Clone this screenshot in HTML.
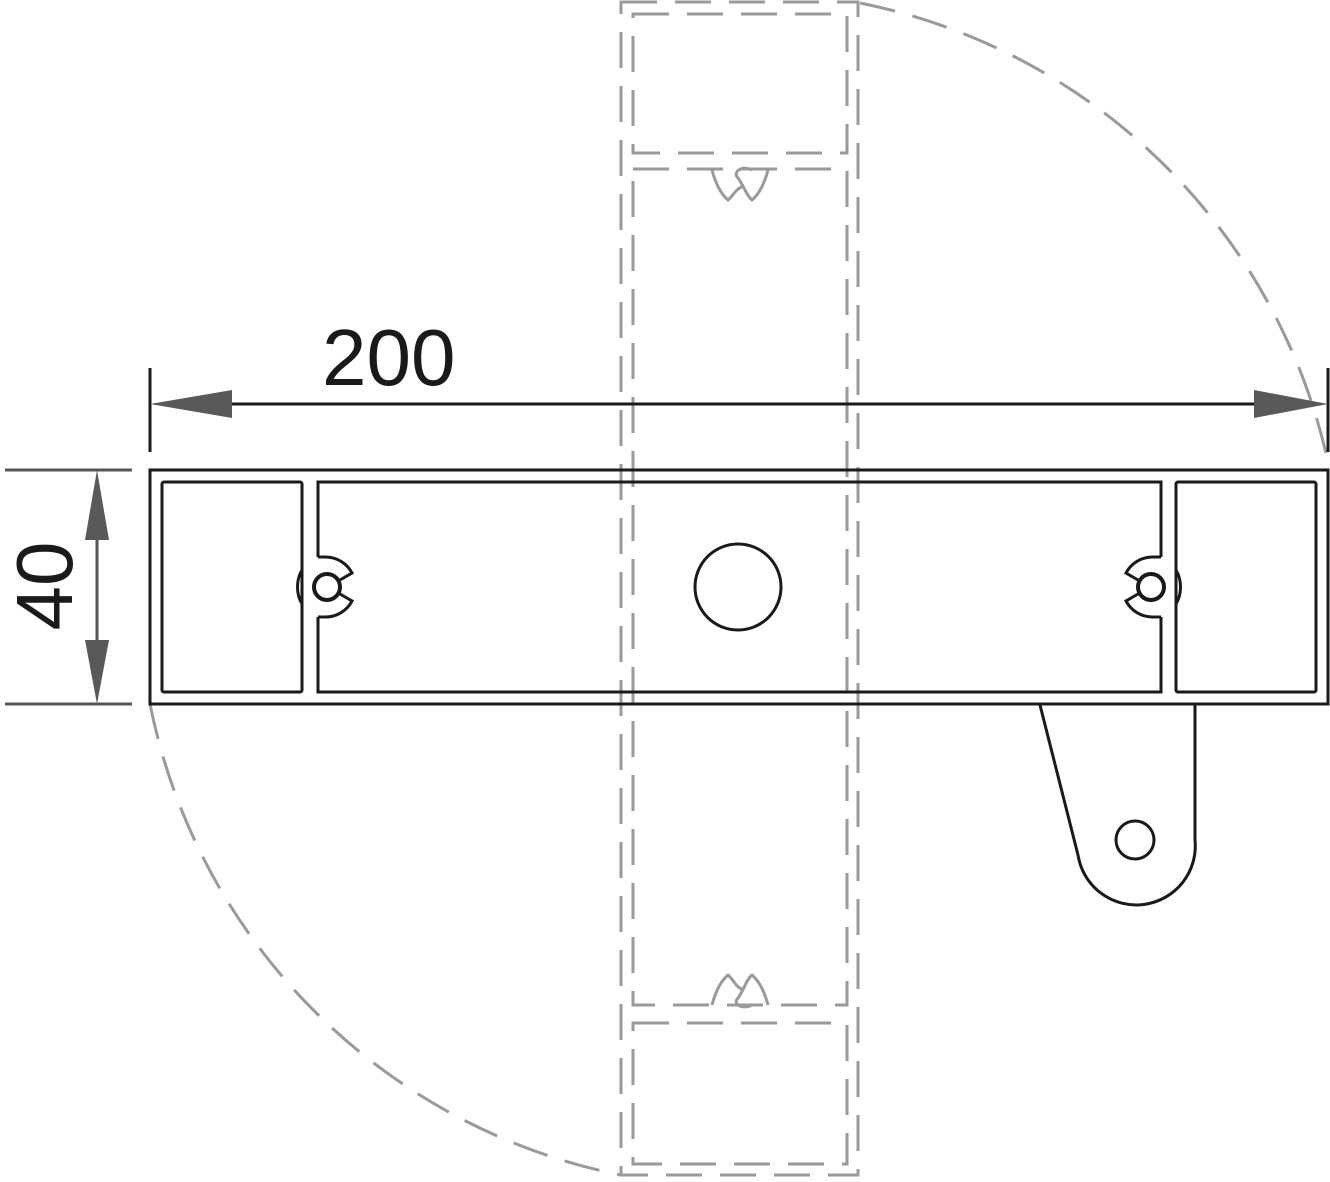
<!DOCTYPE html>
<html><head><meta charset="utf-8"><style>html,body{margin:0;padding:0;background:#fff}svg{display:block}</style></head>
<body>
<svg width="1330" height="1182" viewBox="0 0 1330 1182" xmlns="http://www.w3.org/2000/svg">
<g fill="none" stroke="#9a9a9a" stroke-width="3" stroke-dasharray="36 18">
<path d="M860 3 A600 600 0 0 1 1328 462"/>
<path d="M150 704 A600 600 0 0 0 621 1175"/>
<rect x="621" y="2" width="237" height="1173"/>
<rect x="633" y="14" width="214" height="139"/>
<rect x="633" y="169" width="214" height="836"/>
<rect x="633" y="1023" width="214" height="141"/>
</g>
<g fill="none" stroke="#9a9a9a" stroke-width="3">
<path d="M712 170 C716 185 722 195 728 200 C734 195 736 188 744 186 M768 170 C764 185 758 195 752 200 C746 195 744 186 738 178 C732 172 742 165 752 170"/>
<path d="M712 1005 C716 990 722 980 728 975 C734 980 736 988 744 990 M768 1005 C764 990 758 980 752 975 C746 980 744 990 738 998 C732 1004 742 1010 752 1005"/>
</g>
<g fill="none" stroke="#1a1a1a" stroke-width="3">
<rect x="150" y="470" width="1178" height="234"/>
<rect x="162" y="482" width="140" height="210" rx="2"/>
<path d="M318 557 V482 H1161 V557"/>
<path d="M318 617 V692 H1161 V617"/>
<path d="M318 557 H326 A30 30 0 0 1 352 573 L340 580"/>
<path d="M340 594 L352 601 A30 30 0 0 1 326 617 H318"/>
<path d="M1161 557 H1152 A30 30 0 0 0 1126 573 L1138 580"/>
<path d="M1138 594 L1126 601 A30 30 0 0 0 1152 617 H1161"/>
<circle cx="327" cy="587" r="13" stroke-width="4"/>
<circle cx="1151" cy="587" r="13" stroke-width="4"/>
<path d="M302 570 C296 580 296 594 302 604"/>
<path d="M1176 570 C1182 580 1182 594 1176 604"/>
<rect x="1176" y="482" width="140" height="210" rx="2"/>
<circle cx="738" cy="587" r="43"/>
<path d="M1040 705 L1078 855 A59 59 0 0 0 1195 840 V705"/>
<circle cx="1135" cy="840" r="19"/>
<line x1="150" y1="368" x2="150" y2="452"/>
<line x1="1328" y1="368" x2="1328" y2="452"/>
<line x1="232" y1="404" x2="1254" y2="404"/>
</g>
<g stroke="#555" stroke-width="3">
<line x1="5" y1="470" x2="132" y2="470"/>
<line x1="5" y1="704" x2="132" y2="704"/>
<line x1="97" y1="540" x2="97" y2="640"/>
</g>
<g fill="#595959">
<polygon points="150,404 232,390 232,418"/>
<polygon points="1328,404 1254,390 1254,418"/>
<polygon points="97,470 85,540 109,540"/>
<polygon points="97,704 85,640 109,640"/>
</g>
<text x="322" y="385" font-family="Liberation Sans, sans-serif" font-size="80" fill="#1a1a1a" style="font-weight:300">200</text>
<text transform="translate(72 586) rotate(-90)" text-anchor="middle" font-family="Liberation Sans, sans-serif" font-size="80" fill="#1a1a1a">40</text>
</svg>
</body></html>
